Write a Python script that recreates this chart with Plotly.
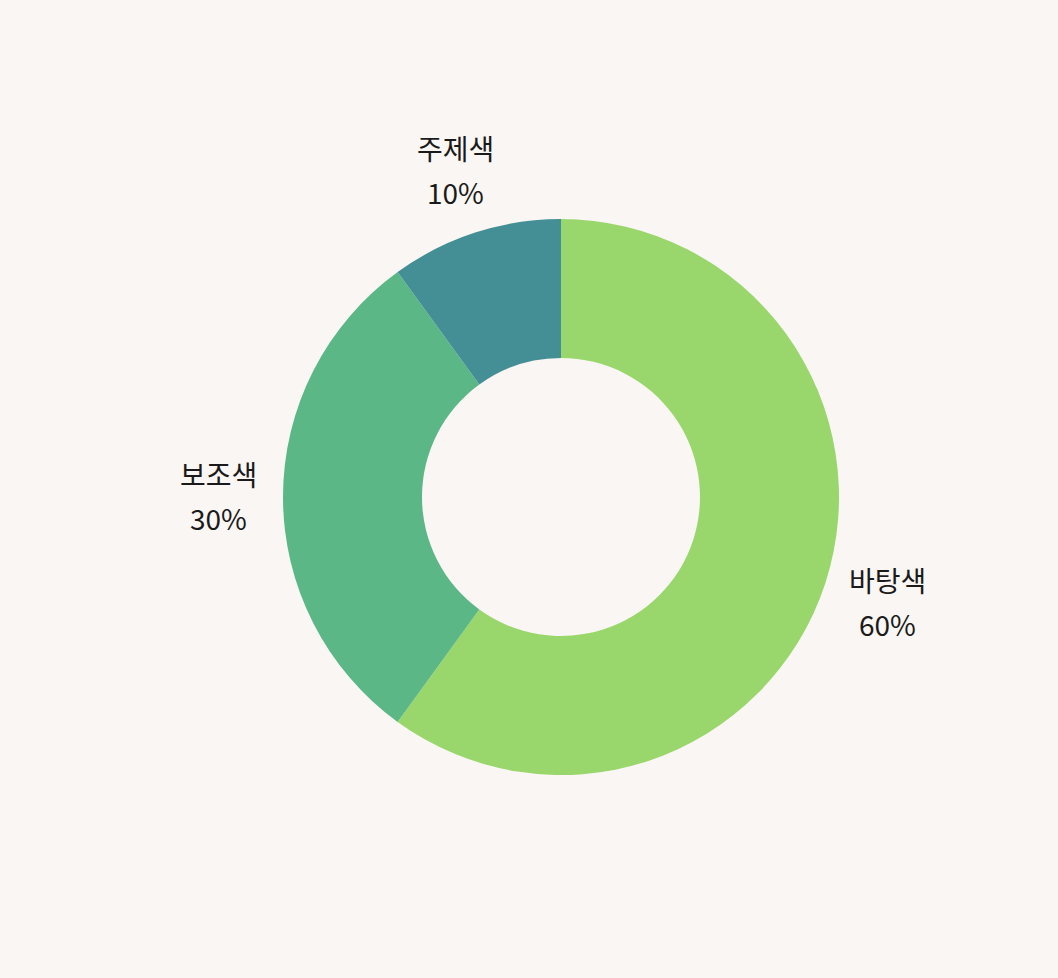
import math
import plotly.graph_objects as go

labels = ["바탕색", "보조색", "주제색"]
values = [60, 30, 10]
colors = ["#99D66B", "#5BB886", "#448F95"]

W, H = 1058, 978
CX, CY = 561, 497       # pie centre (px)
R_OUT = 278             # outer radius (px)
R_LABEL = 343           # radius at which label blocks are centred (px)
FONT = "Noto Sans CJK KR"

fig = go.Figure(go.Pie(
    labels=labels,
    values=values,
    hole=0.5,
    sort=False,
    direction="clockwise",
    rotation=0,
    marker=dict(colors=colors, line=dict(width=0)),
    textinfo="none",
    showlegend=False,
    hoverinfo="label+percent",
    domain=dict(
        x=[(CX - R_OUT) / W, (CX + R_OUT) / W],
        y=[1 - (CY + R_OUT) / H, 1 - (CY - R_OUT) / H],
    ),
))

# labels placed along each slice's mid-angle, computed from the data
total = sum(values)
cum = 0
annotations = []
for lab, val in zip(labels, values):
    mid = (cum + val / 2) / total * 2 * math.pi
    cum += val
    px = CX + R_LABEL * math.sin(mid)
    py = CY - R_LABEL * math.cos(mid)
    x = px / W
    y = 1 - py / H
    pct = f"{round(val / total * 100)}%"
    for txt, shift in ((lab, 23), (pct, -21)):
        annotations.append(dict(
            x=x, y=y, xref="paper", yref="paper",
            text=txt, showarrow=False, yshift=shift,
            xanchor="center", yanchor="middle",
            font=dict(size=28, color="#1a1a1a", family=FONT),
        ))

fig.update_layout(
    width=W,
    height=H,
    paper_bgcolor="#FAF6F3",
    plot_bgcolor="#FAF6F3",
    margin=dict(l=0, r=0, t=0, b=0, autoexpand=False),
    font=dict(family=FONT),
    annotations=annotations,
)

fig.write_html(
    "out.html",
    config={"displayModeBar": False},
    post_script="document.body.style.margin='0';document.body.style.background='#FAF6F3';",
)
